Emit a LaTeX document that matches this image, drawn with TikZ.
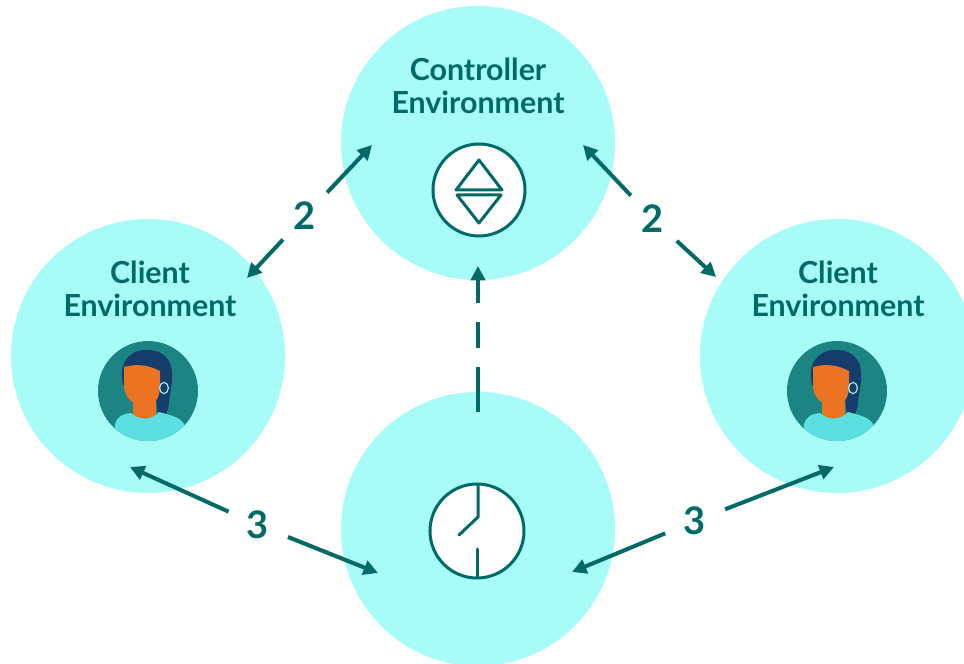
\documentclass[tikz,border=0pt]{standalone}
\usepackage{fontspec}
\setmainfont{Lato}
\usetikzlibrary{arrows.meta}

\definecolor{envcyan}{RGB}{168,252,247}
\definecolor{deepteal}{RGB}{0,106,102}
\definecolor{iconteal}{RGB}{28,133,131}
\definecolor{shirtcyan}{RGB}{92,223,224}
\definecolor{skin}{RGB}{235,115,34}
\definecolor{hairnavy}{RGB}{22,60,108}

\begin{document}
\begin{tikzpicture}[x=0.25mm, y=-0.25mm, >={Triangle[length=3.6mm, width=3.6mm]},
  env/.style={circle, fill=envcyan, minimum size=68.5mm, inner sep=0pt},
  envname/.style={text=deepteal, align=center, font=\fontsize{21.6}{23.5}\selectfont\bfseries},
  icon/.style={circle, draw=deepteal, fill=white, line width=0.75mm, inner sep=0pt},
  iconline/.style={draw=deepteal, line width=0.75mm, line cap=round, line join=round},
  num/.style={circle, inner sep=0pt, minimum size=16mm, text=deepteal, font=\fontsize{27}{27}\selectfont\bfseries},
  link/.style={draw=deepteal, line width=1mm}]

  % page
  \fill[white] (0,0) rectangle (964,664);
  \clip (0,0) rectangle (964,664);

  % environments
  \node[env] (ctrl) at (478,143) {};
  \node[env] (clientl) at (148,356) {};
  \node[env] (clientr) at (837,356) {};
  \node[env] (timer) at (478,529) {};

  \node[envname] (ctrlname) at (478,86) {Controller\\Environment};
  \node[envname] (clientlname) at (150,289) {Client\\Environment};
  \node[envname] (clientrname) at (838,289) {Client\\Environment};

  % up/down swap icon
  \node[icon, minimum size=23mm] (swap) at (479,190) {};
  \begin{scope}[shift={(swap.center)}]
    \draw[iconline] (0,-30) -- (23,0) -- (-23,0) -- cycle;
    \draw[iconline] (-22,5) -- (22,5) -- (0,33) -- cycle;
  \end{scope}

  % clock icon
  \node[icon, minimum size=23.5mm] (clock) at (477,531) {};
  \begin{scope}[shift={(clock.center)}]
    \draw[iconline] (1,-46) -- (1,-14) -- (-18,4);
    \draw[iconline] (0,18) -- (0,46);
  \end{scope}

  % client avatars
  \foreach \cx in {148,837} {
    \begin{scope}[shift={(\cx,391)}]
      \fill[iconteal] (0,0) circle[radius=12.5mm];
      \begin{scope}
        \clip (0,0) circle[radius=12.5mm];
        \fill[hairnavy] (-26,-12) .. controls (-28,-33) and (-14,-42) .. (0,-41)
          .. controls (15,-41) and (24,-31) .. (24,-18)
          .. controls (25,-6) and (21,4) .. (21,12)
          .. controls (20,22) and (16,28) .. (9,33)
          .. controls (11,24) and (9,16) .. (8,8) -- (-25,-6) -- cycle;
        \fill[skin] (-15,2) rectangle (8,32);
        \fill[shirtcyan] (-34,55) -- (-33,33) .. controls (-31,26) and (-26,23) .. (-17,22)
          .. controls (-9,29) and (3,30) .. (11,21)
          .. controls (22,24) and (32,26) .. (36,33) -- (38,55) -- cycle;
        \fill[skin] (-24,-24) .. controls (-10,-28) and (3,-25) .. (12,-20) -- (12,-4)
          .. controls (12,7) and (6,15) .. (-3,15)
          .. controls (-15,15) and (-23,6) .. (-24,-4) -- cycle;
        \draw[shirtcyan!60!white, line width=0.3mm] (16,-3) ellipse[x radius=1.1mm, y radius=1.4mm];
      \end{scope}
    \end{scope}
  }

  % step numbers
  \node[num] (l2) at (305,216) {2};
  \node[num] (r2) at (653,219) {2};
  \node[num] (l3) at (258,525) {3};
  \node[num] (r3) at (695,521) {3};

  % arrow ends
  \coordinate (l2a) at (372,145);
  \coordinate (l2b) at (247,278);
  \coordinate (r2a) at (583,145);
  \coordinate (r2b) at (716,277);
  \coordinate (l3a) at (130,467);
  \coordinate (l3b) at (378,573);
  \coordinate (r3a) at (572,572);
  \coordinate (r3b) at (834,467);
  \coordinate (up0) at (478,412);
  \coordinate (up1) at (478,266);

  \draw[link, ->] (l2) -- (l2a);
  \draw[link, ->] (l2) -- (l2b);
  \draw[link, ->] (r2) -- (r2a);
  \draw[link, ->] (r2) -- (r2b);
  \draw[link, ->] (l3) -- (l3a);
  \draw[link, ->] (l3) -- (l3b);
  \draw[link, ->] (r3) -- (r3a);
  \draw[link, ->] (r3) -- (r3b);
  \draw[link, ->, dash pattern=on 11.25mm off 4.75mm on 6.5mm off 4.75mm on 20mm] (up0) -- (up1);

\end{tikzpicture}
\end{document}
